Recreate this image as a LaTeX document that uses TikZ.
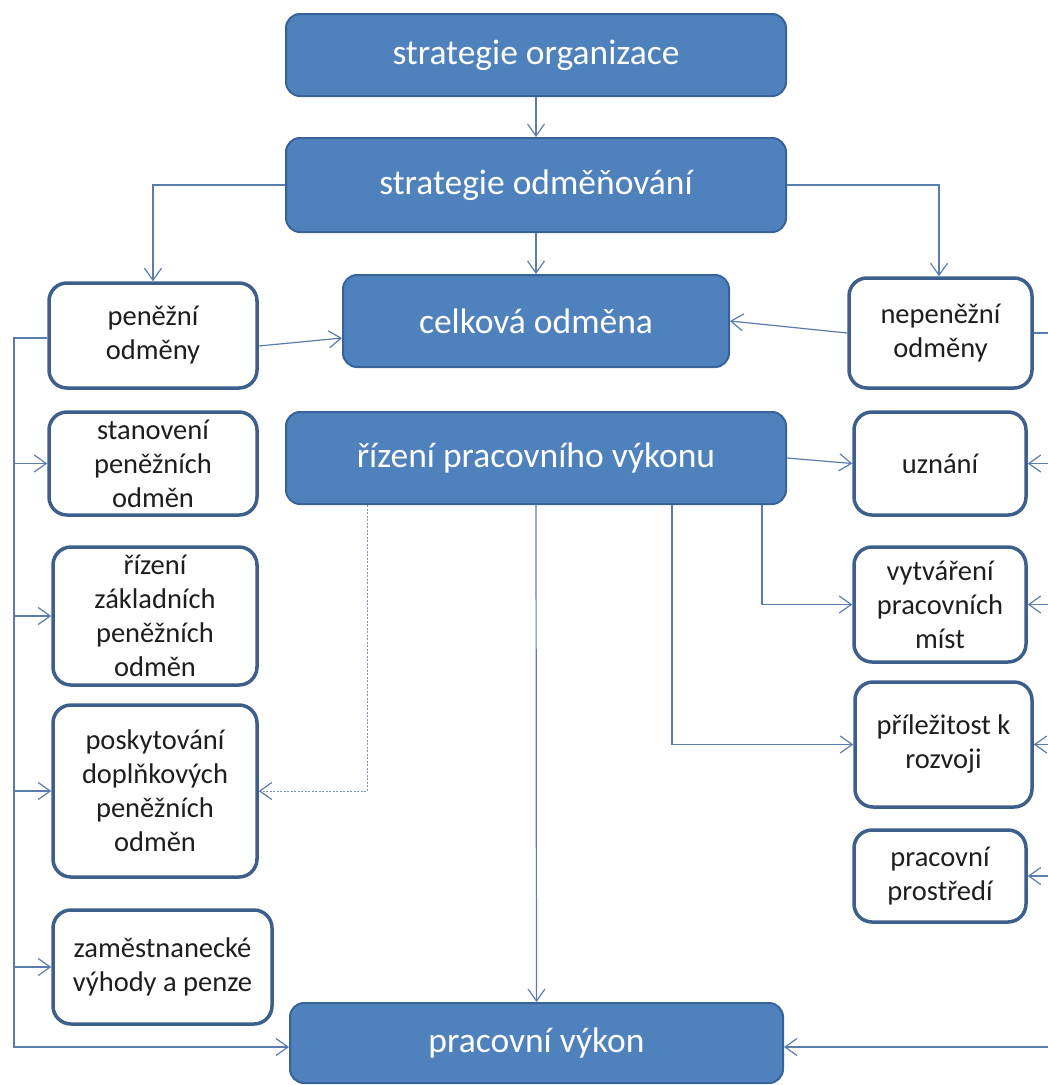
\documentclass[tikz,border=0pt]{standalone}
\usepackage{fontspec}
\setmainfont{Carlito}
\usetikzlibrary{arrows.meta,calc}
\definecolor{bfill}{HTML}{4F81BD}
\definecolor{bline}{HTML}{38639A}
\definecolor{wline}{HTML}{3C5F8C}
\definecolor{connc}{HTML}{5B7DAE}
\definecolor{dotc}{HTML}{7F90AA}
\definecolor{txt}{HTML}{1E1E1E}
\begin{document}
\begin{tikzpicture}[x=1pt,y=-1pt,
  bluebox/.style={draw=bline,line width=2pt,fill=bfill,rounded corners=14pt,
    text=white,font=\fontsize{35.5}{40}\selectfont,inner sep=0pt,align=center},
  whitebox/.style={draw=wline,line width=3.5pt,fill=white,rounded corners=18pt,
    text=txt,font=\fontsize{28.5}{34}\selectfont,inner sep=0pt,align=center},
  link/.style={draw=connc,line width=1.2pt,-{Straight Barb[length=12pt,width=17pt]}},
  dotlink/.style={draw=dotc,line width=1pt,dash pattern=on 2pt off 1.5pt,-{Straight Barb[length=12pt,width=17pt,line width=1.2pt,color=connc]}}
]
\useasboundingbox (0,0) rectangle (1048,1085);
\clip (0,0) rectangle (1048,1085);
\fill[white] (0,0) rectangle (1048,1085);

% blue boxes
\node[bluebox,minimum width=500pt,minimum height=82pt] (org) at (536,55) {strategie organizace};
\node[bluebox,minimum width=500pt,minimum height=94pt] (odm) at (536,185) {strategie odměňování};
\node[bluebox,minimum width=386pt,minimum height=92pt] (celk) at (536,321) {celková odměna};
\node[bluebox,minimum width=500pt,minimum height=92pt] (rpv) at (536,458) {řízení pracovního výkonu};
\node[bluebox,minimum width=493pt,minimum height=80pt] (pv) at (536.5,1043) {pracovní výkon};

% left white boxes
\node[whitebox,minimum width=208pt,minimum height=105pt] (pen) at (153,335.5) {peněžní\\odměny};
\node[whitebox,minimum width=208pt,minimum height=103pt] (stan) at (153,463.5) {stanovení\\peněžních\\odměn};
\node[whitebox,minimum width=204pt,minimum height=138pt] (rzpo) at (155,616) {řízení\\základních\\peněžních\\odměn};
\node[whitebox,minimum width=204pt,minimum height=172pt] (posk) at (155,791) {poskytování\\doplňkových\\peněžních\\odměn};
\node[whitebox,minimum width=219pt,minimum height=114pt] (zam) at (162.5,967) {zaměstnanecké\\výhody a penze};

% right white boxes
\node[whitebox,minimum width=183pt,minimum height=110pt] (nep) at (940.5,333) {nepeněžní\\odměny};
\node[whitebox,minimum width=172pt,minimum height=103pt] (uzn) at (940,463.5) {uznání};
\node[whitebox,minimum width=172pt,minimum height=115pt] (vytv) at (940,604.5) {vytváření\\pracovních\\míst};
\node[whitebox,minimum width=177pt,minimum height=125pt] (pril) at (943.5,744.5) {příležitost k\\rozvoji};
\node[whitebox,minimum width=172pt,minimum height=92pt] (prost) at (940,876) {pracovní\\prostředí};

% side rails (right one lies beyond the picture edge)
\coordinate (L) at (14,0);
\coordinate (R) at (1062,0);

% top connectors
\draw[link] (org.south) -- (odm.north);
\draw[link] (odm.south) -- (celk.north);
\draw[link] (odm.west) -| (pen.north);
\draw[link] (odm.east) -| ([xshift=-1.5pt]nep.north);
\draw[link] ([yshift=-10.5pt]pen.east) -- ([yshift=-17pt]celk.west);
\draw[link] (nep.west) -- (celk.east);

% left rail
\draw[link] ([yshift=-2.5pt]pen.west) -- ([yshift=-2.5pt]pen.west -| L) |- ([yshift=-4pt]pv.west);
\draw[link] (L |- stan.west) -- (stan.west);
\draw[link] (L |- rzpo.west) -- (rzpo.west);
\draw[link] (L |- posk.west) -- (posk.west);
\draw[link] (L |- zam.west) -- (zam.west);

% right rail
\draw[link] (nep.east) -- (nep.east -| R) |- ([yshift=-4pt]pv.east);
\draw[link] (R |- uzn.east) -- (uzn.east);
\draw[link] (R |- vytv.east) -- (vytv.east);
\draw[link] (R |- pril.east) -- (pril.east);
\draw[link] (R |- prost.east) -- (prost.east);

% from performance management
\draw[link] (rpv.east) -- (uzn.west);
\draw[link] ([xshift=226pt]rpv.south) |- (vytv.west);
\draw[link] ([xshift=136pt]rpv.south) |- (pril.west);
\draw[link] (rpv.south) -- (pv.north);
\draw[dotlink] ([xshift=-169pt]rpv.south) |- (posk.east);
\end{tikzpicture}
\end{document}
